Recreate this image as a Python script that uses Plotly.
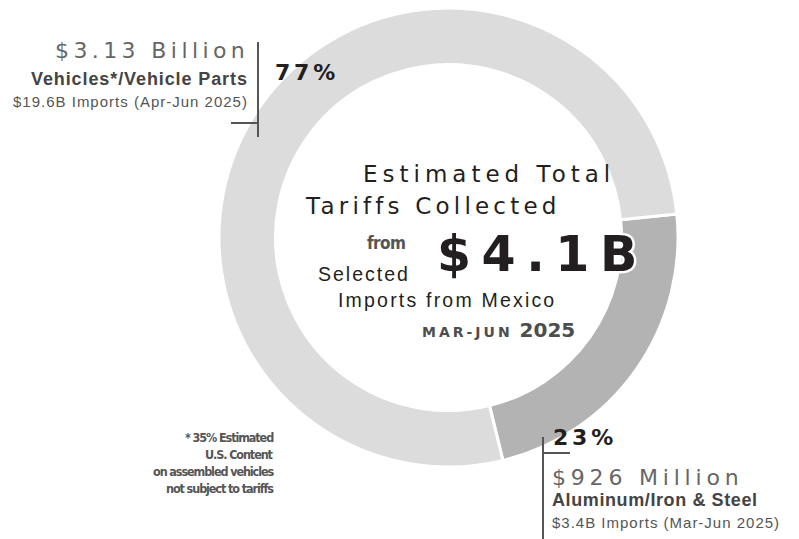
import plotly.graph_objects as go

# Tariff revenue by product group (billions USD), Mar-Jun 2025
groups = ["Aluminum/Iron & Steel", "Vehicles*/Vehicle Parts"]
amounts_bn = [0.926, 3.13]
amount_labels = ["$926 Million", "$3.13 Billion"]
import_notes = ["$3.4B Imports (Mar-Jun 2025)", "$19.6B Imports (Apr-Jun 2025)"]
slice_colors = ["#b3b3b3", "#dcdcdc"]
total_label = "$4.1B"
footnote_lines = ["* 35% Estimated", "U.S. Content", "on assembled vehicles", "not subject to tariffs"]

total = sum(amounts_bn)
shares = [round(100 * a / total) for a in amounts_bn]

W, H = 799, 539


def fx(x):
    return x / W


def fy(y):
    return 1 - y / H


EXT = "DejaVu Sans"
SANS = "Liberation Sans"
NARROW = "DejaVu Sans Condensed"

fig = go.Figure()

cx, cy, R = 448.5, 237.5, 229.5
fig.add_trace(go.Pie(
    labels=groups,
    values=amounts_bn,
    sort=False,
    direction="clockwise",
    rotation=84.1,
    hole=0.754,
    marker=dict(colors=slice_colors, line=dict(color="#ffffff", width=3)),
    textinfo="none",
    hoverinfo="label+value",
    showlegend=False,
    domain=dict(x=[fx(cx - R), fx(cx + R)], y=[fy(cy + R), fy(cy - R)]),
))

annotations = []


def txt(x, y, text, anchor, size, family, color, weight="normal", spacing=0.0, extra=""):
    style = f"letter-spacing:{spacing}px;{extra}"
    annotations.append(dict(
        x=fx(x), y=fy(y), xref="paper", yref="paper",
        text=f'<span style="{style}">{text}</span>',
        xanchor=anchor, yanchor="middle", align=anchor,
        showarrow=False, borderpad=0, borderwidth=0,
        font=dict(family=family, size=size, color=color, weight=weight),
    ))


# Vehicles callout (upper left)
txt(249, 51, amount_labels[1], "right", 22, EXT, "#666666", spacing=4.4)
txt(248, 79.5, groups[1], "right", 18, SANS, "#444444", weight="bold", spacing=0.9)
txt(248, 101.5, import_notes[1], "right", 15, SANS, "#555555", spacing=1.0)
txt(275, 72, f"{shares[1]}%", "left", 22, EXT, "#231f20", weight="bold", spacing=3.8)

# Metals callout (lower right)
txt(553, 437, f"{shares[0]}%", "left", 22, EXT, "#231f20", weight="bold", spacing=3.8)
txt(552, 477, amount_labels[0], "left", 22, EXT, "#666666", spacing=4.8)
txt(552, 500, groups[0], "left", 18, SANS, "#444444", weight="bold", spacing=0.6)
txt(552, 522, import_notes[0], "left", 15, SANS, "#555555", spacing=1.0)

# Center title block
txt(363, 173.5, "Estimated Total", "left", 23, EXT, "#231f20", spacing=5.0)
txt(305, 206, "Tariffs Collected", "left", 23, EXT, "#231f20", spacing=4.2)
txt(367, 243, "from", "left", 17, NARROW, "#555555", weight="bold", spacing=-0.6)
txt(437, 255, total_label, "left", 49, EXT, "#231f20", weight="bold", spacing=10.5,
    extra="stroke:#ffffff;stroke-width:5px;paint-order:stroke;stroke-linejoin:round")
txt(318, 273.5, "Selected", "left", 19.5, SANS, "#231f20", spacing=2)
txt(338, 300, "Imports from Mexico", "left", 19.5, SANS, "#231f20", spacing=2.2)
annotations.append(dict(
    x=fx(422), y=fy(330), xref="paper", yref="paper",
    text=('<span style="letter-spacing:3px;font-size:14px">MAR-JUN</span>'
          '<span style="font-size:20px"> 2025</span>'),
    xanchor="left", yanchor="middle", showarrow=False, borderpad=0, borderwidth=0,
    font=dict(family=EXT, size=20, color="#4d4d4d", weight="bold"),
))

# Footnote
for i, line in enumerate(footnote_lines):
    txt(274, 437 + 17 * i, line, "right", 12.5, NARROW, "#555555", weight="bold", spacing=-1.1)

# Leader lines
line_style = dict(color="#555555", width=2)
shapes = [
    dict(type="line", xref="paper", yref="paper", x0=fx(258), x1=fx(258), y0=fy(42), y1=fy(137), line=line_style),
    dict(type="line", xref="paper", yref="paper", x0=fx(231), x1=fx(258), y0=fy(123), y1=fy(123), line=line_style),
    dict(type="line", xref="paper", yref="paper", x0=fx(543), x1=fx(543), y0=fy(437), y1=fy(545), line=line_style),
    dict(type="line", xref="paper", yref="paper", x0=fx(543), x1=fx(570), y0=fy(453), y1=fy(453), line=line_style),
]

fig.update_layout(
    width=W, height=H,
    margin=dict(l=0, r=0, t=0, b=0),
    paper_bgcolor="#ffffff", plot_bgcolor="#ffffff",
    annotations=annotations,
    shapes=shapes,
)

fig.write_html("out.html")
